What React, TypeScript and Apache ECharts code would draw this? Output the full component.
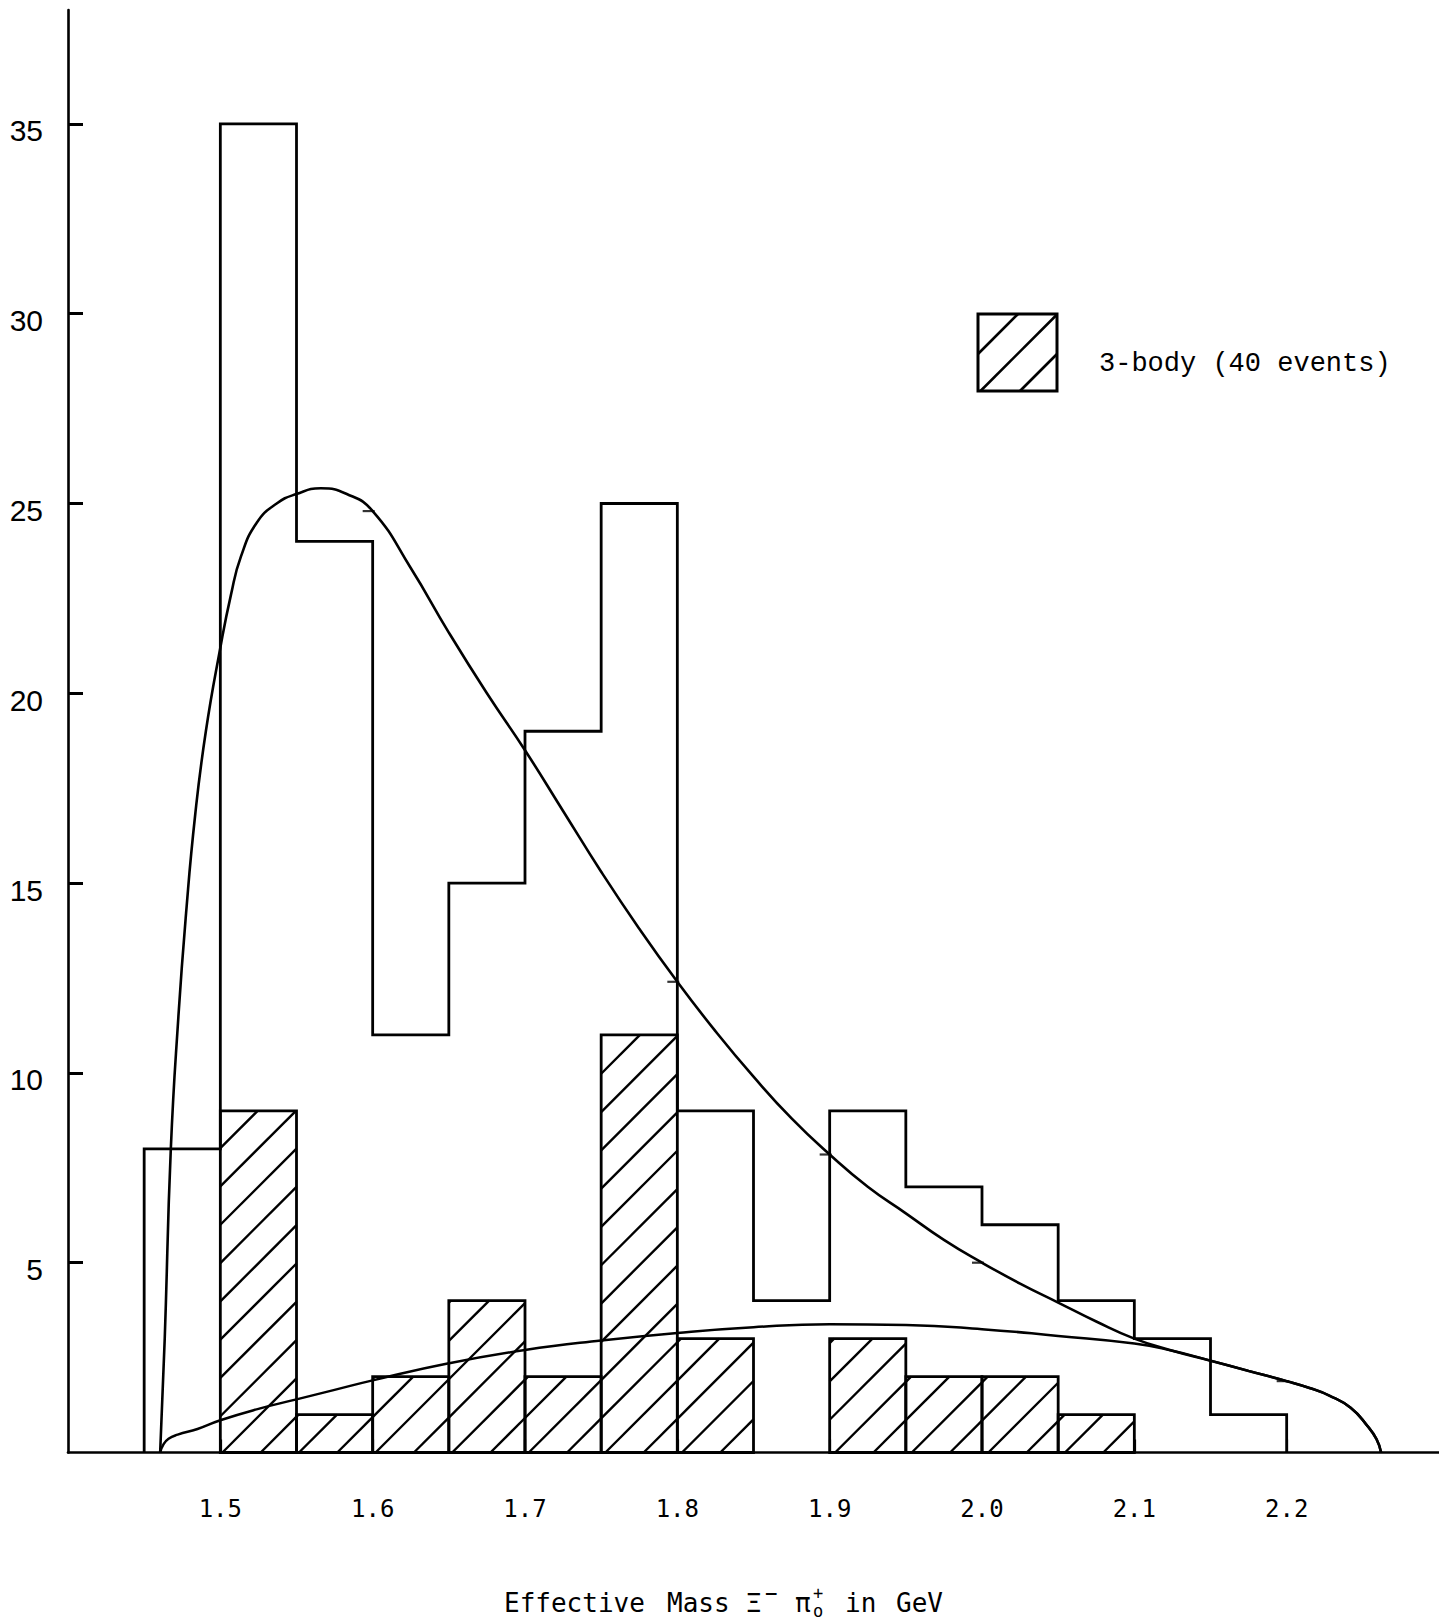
import React, { useEffect, useRef } from 'react';
import * as echarts from 'echarts';

// ---- data ----
const binEdges = [1.45, 1.5, 1.55, 1.6, 1.65, 1.7, 1.75, 1.8, 1.85, 1.9, 1.95, 2.0, 2.05, 2.1, 2.15, 2.2];
const allEvents = [8, 35, 24, 11, 15, 19, 25, 9, 4, 9, 7, 6, 4, 3, 1];
const threeBodyEvents = [0, 9, 1, 2, 4, 2, 11, 3, 0, 3, 2, 2, 1, 0, 0];

const fitX = [1.4605, 1.4635, 1.4675, 1.4725, 1.4775, 1.4835, 1.4905, 1.5, 1.507, 1.5135, 1.524, 1.537, 1.55, 1.566, 1.583, 1.6, 1.625, 1.65, 1.675, 1.7, 1.725, 1.75, 1.775, 1.8, 1.825, 1.85, 1.875, 1.9, 1.925, 1.95, 1.975, 2.0, 2.025, 2.05, 2.075, 2.1, 2.125, 2.15, 2.175, 2.2, 2.215, 2.228, 2.242, 2.253, 2.259, 2.262];
const fitY = [0, 3, 8, 11.5, 14.2, 16.8, 19.0, 21.2, 22.6, 23.6, 24.5, 25.0, 25.25, 25.4, 25.25, 24.8, 23.3, 21.6, 20.0, 18.5, 16.9, 15.3, 13.8, 12.4, 11.1, 9.9, 8.8, 7.85, 7.0, 6.3, 5.6, 5.0, 4.45, 3.95, 3.45, 3.0, 2.68, 2.42, 2.15, 1.88, 1.7, 1.5, 1.18, 0.7, 0.35, 0];

const threeBodyCurveX = [1.4605, 1.4625, 1.466, 1.472, 1.485, 1.5, 1.525, 1.55, 1.575, 1.6, 1.65, 1.7, 1.75, 1.8, 1.85, 1.9, 1.95, 2.0, 2.05, 2.1, 2.125, 2.15, 2.175, 2.2, 2.215, 2.228, 2.242, 2.253, 2.259, 2.262];
const threeBodyCurveY = [0, 0.2, 0.36, 0.47, 0.62, 0.85, 1.15, 1.4, 1.65, 1.9, 2.35, 2.7, 2.95, 3.15, 3.3, 3.38, 3.36, 3.25, 3.07, 2.87, 2.68, 2.42, 2.15, 1.88, 1.7, 1.5, 1.18, 0.7, 0.35, 0];

const fitMarkX = [1.6, 1.8, 1.9, 2.0, 2.2];
const xTickLabels = [1.5, 1.6, 1.7, 1.8, 1.9, 2.0, 2.1, 2.2];
const yTickLabels = [5, 10, 15, 20, 25, 30, 35];
const legendLabel = '3-body (40 events)';

// ---- helpers ----
const HATCH_STEP = 38.3;
const HATCH_PHASE = 28;

function hatchSegments(l: number, t: number, r: number, b: number, step: number, phase: number) {
  const segs: number[][] = [];
  const cStart = Math.ceil((l + t - phase) / step) * step + phase;
  for (let c = cStart; c <= r + b; c += step) {
    const xa = Math.max(l, c - b);
    const xb = Math.min(r, c - t);
    if (xb - xa > 0.5) segs.push([xa, c - xa, xb, c - xb]);
  }
  return segs;
}

export default function App() {
  const ref = useRef<HTMLDivElement>(null);

  useEffect(() => {
    if (!ref.current) return;
    const chart = echarts.init(ref.current, null, { renderer: 'svg' });

    const stepPts: number[][] = [[binEdges[0], 0]];
    allEvents.forEach((h, i) => {
      stepPts.push([binEdges[i], h]);
      stepPts.push([binEdges[i + 1], h]);
    });
    stepPts.push([binEdges[binEdges.length - 1], 0]);

    const hatchedData = threeBodyEvents
      .map((h, i) => [binEdges[i], binEdges[i + 1], h])
      .filter((d) => d[2] > 0);

    const fitData = fitX.map((x, i) => [x, fitY[i]]);
    const tbData = threeBodyCurveX.map((x, i) => [x, threeBodyCurveY[i]]);
    const markData = fitMarkX.map((x) => [x, fitY[fitX.indexOf(x)]]);

    // legend box
    const lb = { x: 978, y: 314, w: 79, h: 77 };
    const legendHatch = [1332, 1371.5, 1411].map((c) => {
      const xa = Math.max(lb.x, c - (lb.y + lb.h));
      const xb = Math.min(lb.x + lb.w, c - lb.y);
      return { type: 'line', shape: { x1: xa, y1: c - xa, x2: xb, y2: c - xb }, style: { stroke: '#000', lineWidth: 2.6 } };
    });

    const titleFont = '26px "DejaVu Sans Mono"';
    const tY = 1603;
    const titleParts = [
      { t: 'Effective', x: 504, y: tY, f: titleFont },
      { t: 'Mass', x: 667, y: tY, f: titleFont },
      { t: 'Ξ', x: 746, y: tY, f: titleFont },
      { t: '−', x: 764, y: tY - 10, f: 'bold 17px "DejaVu Sans"' },
      { t: 'π', x: 795, y: tY, f: titleFont },
      { t: '+', x: 813, y: tY - 10, f: '17px "DejaVu Sans Mono"' },
      { t: 'o', x: 813, y: tY + 8, f: '17px "DejaVu Sans Mono"' },
      { t: 'in', x: 845, y: tY, f: titleFont },
      { t: 'GeV', x: 896, y: tY, f: titleFont },
    ];

    chart.setOption({
      animation: false,
      backgroundColor: '#fff',
      grid: { left: 68, top: 10, width: 1372.5, height: 1442.5 },
      xAxis: {
        type: 'value',
        min: 1.4,
        max: 2.3,
        interval: 0.1,
        axisLine: { show: true, onZero: false, lineStyle: { color: '#000', width: 2.6 } },
        axisTick: { show: true, inside: true, length: 13, customValues: xTickLabels, lineStyle: { color: '#000', width: 2.2 } },
        splitLine: { show: false },
        axisLabel: {
          customValues: xTickLabels,
          formatter: (v: number) => v.toFixed(1),
          fontFamily: '"DejaVu Sans Mono"',
          fontSize: 24,
          color: '#000',
          margin: 44,
        },
      },
      yAxis: {
        type: 'value',
        min: 0,
        max: 38,
        interval: 5,
        axisLine: { show: true, onZero: false, lineStyle: { color: '#000', width: 2.6 } },
        axisTick: { show: true, inside: true, length: 15, customValues: yTickLabels, lineStyle: { color: '#000', width: 3 } },
        splitLine: { show: false },
        axisLabel: {
          customValues: yTickLabels,
          fontFamily: '"Liberation Sans"',
          fontSize: 30,
          color: '#000',
          margin: 25,
          verticalAlign: 'top',
          lineHeight: 14,
        },
      },
      graphic: [
        { type: 'rect', shape: { x: lb.x, y: lb.y, width: lb.w, height: lb.h }, style: { fill: 'none', stroke: '#000', lineWidth: 3 } },
        ...legendHatch,
        { type: 'text', x: 1099, y: 364, style: { text: legendLabel, font: '27px "Liberation Mono"', fill: '#000', verticalAlign: 'middle', align: 'left' } },
        ...titleParts.map((p) => ({
          type: 'text',
          x: p.x,
          y: p.y,
          style: { text: p.t, font: p.f, fill: '#000', verticalAlign: 'middle', align: 'left' },
        })),
      ],
      series: [
        {
          type: 'line',
          name: 'All events',
          data: stepPts,
          showSymbol: false,
          silent: true,
          lineStyle: { color: '#000', width: 2.8, join: 'miter' },
          z: 3,
        },
        {
          type: 'custom',
          name: legendLabel,
          data: hatchedData,
          encode: { x: [0, 1], y: 2 },
          silent: true,
          z: 2,
          renderItem: (params: any, api: any) => {
            const x0 = api.value(0);
            const x1 = api.value(1);
            const h = api.value(2);
            const pA = api.coord([x0, 0]);
            const pB = api.coord([x1, h]);
            const left = pA[0], right = pB[0], top = pB[1], bottom = pA[1];
            const children: any[] = [
              { type: 'rect', shape: { x: left, y: top, width: right - left, height: bottom - top }, style: { fill: 'none', stroke: '#000', lineWidth: 2.8 } },
            ];
            hatchSegments(left, top, right, bottom, HATCH_STEP, HATCH_PHASE).forEach((s) => {
              children.push({ type: 'line', shape: { x1: s[0], y1: s[1], x2: s[2], y2: s[3] }, style: { stroke: '#000', lineWidth: 2.4 } });
            });
            return { type: 'group', children };
          },
        },
        {
          type: 'line',
          name: 'Fit',
          data: fitData,
          showSymbol: false,
          smooth: 0.5,
          silent: true,
          lineStyle: { color: '#000', width: 2.6 },
          z: 4,
        },
        {
          type: 'line',
          name: '3-body phase space',
          data: tbData,
          showSymbol: false,
          smooth: 0.5,
          silent: true,
          lineStyle: { color: '#000', width: 2.5 },
          z: 4,
        },
        {
          type: 'scatter',
          name: 'marks',
          data: markData,
          symbol: 'rect',
          symbolSize: [12, 2.2],
          symbolOffset: [-4, 0],
          silent: true,
          itemStyle: { color: '#000' },
          z: 5,
        },
      ],
    });

    return () => chart.dispose();
  }, []);

  return <div ref={ref} style={{ position: 'absolute', left: 0, top: 0, width: 1439, height: 1624, background: '#fff' }} />;
}
